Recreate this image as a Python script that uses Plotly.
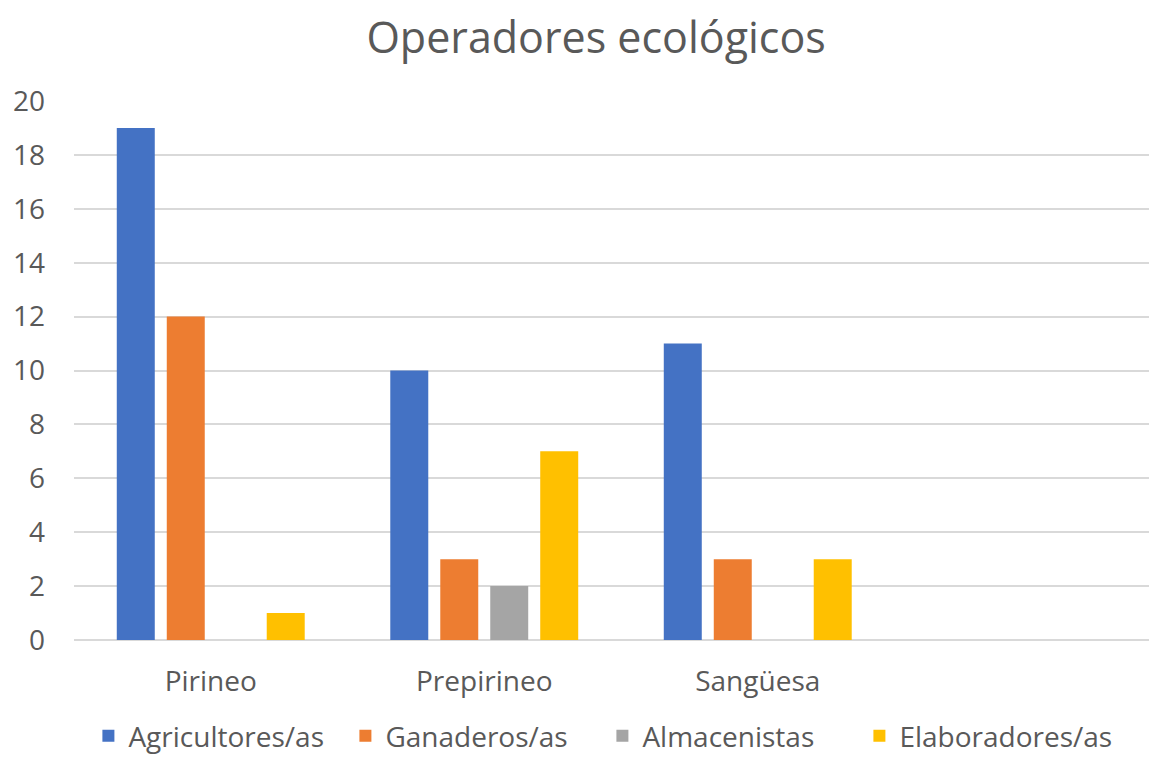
import plotly.graph_objects as go

categories = ["Pirineo", "Prepirineo", "Sangüesa"]
series_names = ["Agricultores/as", "Ganaderos/as", "Almacenistas", "Elaboradores/as"]
agricultores = [19, 10, 11]
ganaderos = [12, 3, 3]
almacenistas = [None, 2, None]
elaboradores = [1, 7, 3]
colors = ["#4472C4", "#ED7D31", "#A5A5A5", "#FFC000"]
y_ticks = [0, 2, 4, 6, 8, 10, 12, 14, 16, 18, 20]

x_pos = list(range(len(categories)))
fig = go.Figure()
for name, vals, col in zip(series_names, [agricultores, ganaderos, almacenistas, elaboradores], colors):
    fig.add_trace(go.Bar(x=x_pos, y=vals, name=name, marker_color=col, marker_line_width=0))

font_fam = "Open Sans, Liberation Sans, sans-serif"
fig.update_layout(
    width=1160, height=757,
    margin=dict(l=66, r=0, t=93, b=125, autoexpand=False),
    paper_bgcolor="white", plot_bgcolor="white",
    barmode="group", bargap=0.269, bargroupgap=0.24,
    title=dict(text="Operadores ecológicos", x=0.507, xanchor="center", y=0.96, yanchor="middle",
               font=dict(family=font_fam, size=43, color="#595959")),
    xaxis=dict(range=[-0.5, 3.5], tickvals=x_pos, ticktext=categories, showgrid=False,
               showline=False, zeroline=False, ticks="",
               ticklabelstandoff=22, automargin=False,
               tickfont=dict(family=font_fam, size=28, color="#595959")),
    yaxis=dict(range=[0, 20], tickvals=y_ticks, showgrid=True, gridcolor="#D9D9D9", gridwidth=1.5,
               zeroline=True, zerolinecolor="#D9D9D9", zerolinewidth=1.5, showline=False, ticks="",
               ticklabelstandoff=28, automargin=False,
               tickfont=dict(family=font_fam, size=28, color="#595959")),
    legend=dict(orientation="h", x=0.483, xanchor="center", y=-0.178, yanchor="middle",
                font=dict(family=font_fam, size=28, color="#595959"), itemwidth=30,
                entrywidth=212, entrywidthmode="pixels",
                traceorder="normal"),
    showlegend=True,
)
fig.write_html("out.html")
